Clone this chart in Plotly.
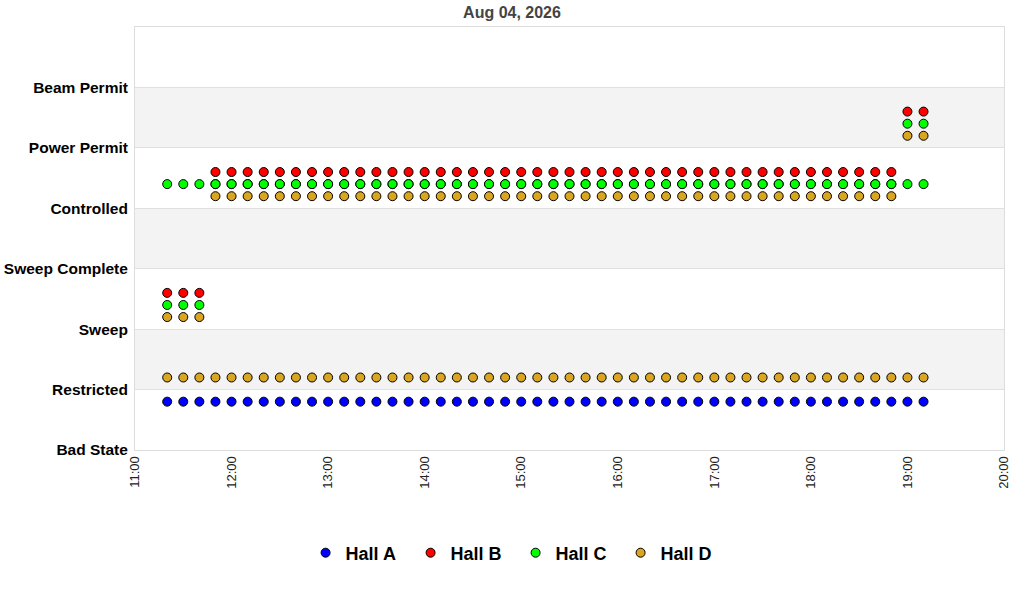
import plotly.graph_objects as go

# ---- data ----
date = "2026-08-04"
times = ["11:20", "11:30", "11:40", "11:50",
         "12:00", "12:10", "12:20", "12:30", "12:40", "12:50",
         "13:00", "13:10", "13:20", "13:30", "13:40", "13:50",
         "14:00", "14:10", "14:20", "14:30", "14:40", "14:50",
         "15:00", "15:10", "15:20", "15:30", "15:40", "15:50",
         "16:00", "16:10", "16:20", "16:30", "16:40", "16:50",
         "17:00", "17:10", "17:20", "17:30", "17:40", "17:50",
         "18:00", "18:10", "18:20", "18:30", "18:40", "18:50",
         "19:00", "19:10"]

state_labels = ["Bad State", "Restricted", "Sweep", "Sweep Complete",
                "Controlled", "Power Permit", "Beam Permit"]

halls = ["Hall A", "Hall B", "Hall C", "Hall D"]
hall_colors = ["#0000ff", "#ff0000", "#00ff00", "#daa520"]
hall_offsets = [0.8, 0.6, 0.4, 0.2]

# state index per time (two record sets per hall where present)
hallA_states = [[0] * 48]
hallB_states = [[2] * 3 + [4] * 43 + [5] * 2]
hallC_states = [[4] * 48, [2] * 3 + [4] * 43 + [5] * 2]
hallD_states = [[1] * 48, [2] * 3 + [4] * 43 + [5] * 2]
all_states = [hallA_states, hallB_states, hallC_states, hallD_states]

x_start, x_end = "11:00", "20:00"
shaded_bands = [(1, 2), (3, 4), (5, 6)]

# ---- figure ----
fig = go.Figure()
xs = [f"{date} {t}" for t in times]
for name, color, off, sets in zip(halls, hall_colors, hall_offsets, all_states):
    px, py = [], []
    for s in sets:
        px += xs
        py += [v + off for v in s]
    fig.add_trace(go.Scatter(
        x=px, y=py, mode="markers", name=name,
        marker=dict(symbol="circle", size=9, color=color,
                    line=dict(color="black", width=1)),
    ))

for y0, y1 in shaded_bands:
    fig.add_shape(type="rect", xref="paper", yref="y", x0=0, x1=1, y0=y0, y1=y1,
                  fillcolor="#f3f3f3", line=dict(width=0), layer="below")

font_family = "Liberation Sans, Arial, sans-serif"
fig.update_layout(
    width=1024, height=600,
    paper_bgcolor="white", plot_bgcolor="white",
    margin=dict(l=135, r=20, t=27, b=150, autoexpand=False),
    title=dict(text="Aug 04, 2026", x=0.5, xref="container", xanchor="center",
               y=1 - 12 / 600, yref="container", yanchor="middle",
               font=dict(family=font_family, size=16, color="#444444", weight="bold")),
    showlegend=True,
    legend=dict(orientation="h", x=0.5035, xref="container", xanchor="center",
                y=1 - 553 / 600, yref="container", yanchor="middle",
                entrywidth=60, entrywidthmode="pixels",
                font=dict(family=font_family, size=18, color="black", weight="bold")),
    xaxis=dict(type="date", range=[f"{date} {x_start}", f"{date} {x_end}"],
               dtick=3600000, tickformat="%H:%M", tickangle=-90, automargin=False,
               showgrid=False, zeroline=False,
               showline=True, mirror=True, linecolor="#dddddd", linewidth=1,
               ticks="", tickfont=dict(family=font_family, size=13, color="#222222")),
    yaxis=dict(range=[0, 7], tickvals=list(range(len(state_labels))),
               ticktext=state_labels, showgrid=True, gridcolor="#e0e0e0",
               zeroline=False, showline=True, mirror=True, linecolor="#dddddd",
               linewidth=1, ticks="", ticklabelstandoff=3, automargin=False,
               tickfont=dict(family=font_family, size=15.5, color="black", weight="bold")),
)

fig.write_html("out.html", config={"displayModeBar": False},
               post_script="document.body.style.margin='0';")
